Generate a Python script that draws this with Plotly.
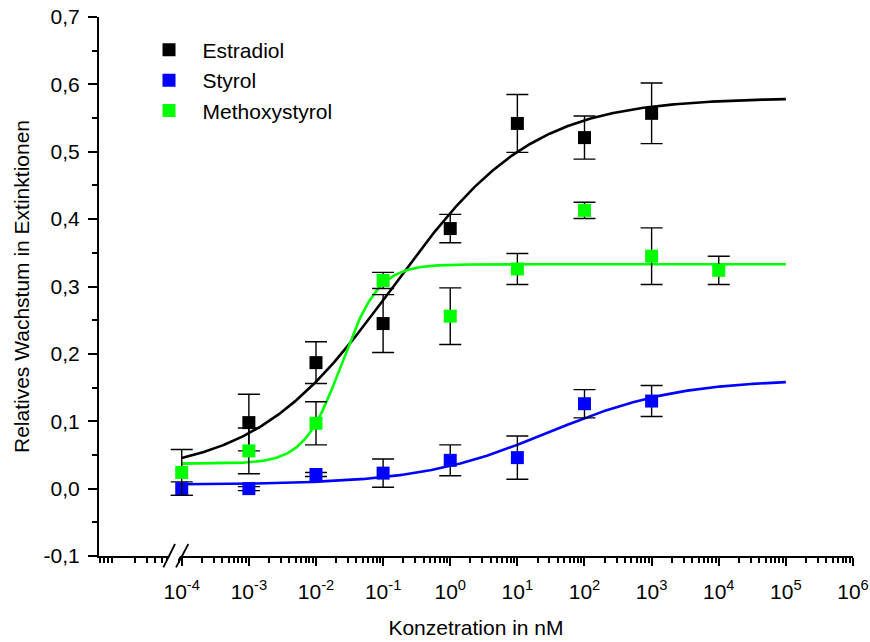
import numpy as np
import plotly.graph_objects as go

# Concentrations in nM
conc = [1e-4, 1e-3, 1e-2, 1e-1, 1e0, 1e1, 1e2, 1e3, 1e4]

# Mean growth (extinction) and standard deviations per substance
estradiol_x = [1e-3, 1e-2, 1e-1, 1e0, 1e1, 1e2, 1e3]
estradiol_y = [0.098, 0.187, 0.245, 0.386, 0.542, 0.521, 0.557]
estradiol_err = [0.042, 0.031, 0.043, 0.021, 0.043, 0.032, 0.045]

styrol_x = [1e-4, 1e-3, 1e-2, 1e-1, 1e0, 1e1, 1e2, 1e3]
styrol_y = [0.000, 0.000, 0.021, 0.023, 0.042, 0.046, 0.126, 0.130]
styrol_err = [0.010, 0.003, 0.003, 0.021, 0.023, 0.032, 0.021, 0.023]

methoxy_x = conc
methoxy_y = [0.024, 0.056, 0.097, 0.309, 0.256, 0.326, 0.413, 0.345, 0.324]
methoxy_err = [0.034, 0.034, 0.032, 0.012, 0.042, 0.023, 0.012, 0.042, 0.021]

# Dose-response fit parameters: bottom, top, log EC50, Hill slope
fit_estradiol = (0.020, 0.580, -0.85, 0.42)
fit_styrol = (0.006, 0.162, 1.48, 0.45)
fit_methoxy = (0.037, 0.333, -1.62, 1.56)

x_tick_exp = [-4, -3, -2, -1, 0, 1, 2, 3, 4, 5, 6]
y_tick_vals = [-0.1, 0.0, 0.1, 0.2, 0.3, 0.4, 0.5, 0.6, 0.7]
y_tick_text = ["-0,1", "0,0", "0,1", "0,2", "0,3", "0,4", "0,5", "0,6", "0,7"]

BLACK = "#000000"
BLUE = "#0000FF"
GREEN = "#00FF00"
FONT = "Liberation Sans, Arial, sans-serif"
FS = 21


def dose_response(logx, params):
    bottom, top, logx0, p = params
    return bottom + (top - bottom) / (1 + 10 ** ((logx0 - logx) * p))


log_grid = np.linspace(-4, 5, 400)
x_grid = 10 ** log_grid

fig = go.Figure()

# fitted curves
for params, col in [(fit_estradiol, BLACK), (fit_methoxy, GREEN), (fit_styrol, BLUE)]:
    fig.add_trace(go.Scatter(
        x=x_grid, y=dose_response(log_grid, params), mode="lines",
        line=dict(color=col, width=2.6), showlegend=False, hoverinfo="skip"))

# measured points with error bars
for name, xs, ys, es, col in [
    ("Estradiol", estradiol_x, estradiol_y, estradiol_err, BLACK),
    ("Styrol", styrol_x, styrol_y, styrol_err, BLUE),
    ("Methoxystyrol", methoxy_x, methoxy_y, methoxy_err, GREEN),
]:
    fig.add_trace(go.Scatter(
        x=xs, y=ys, mode="markers", name=name, legendgroup=name,
        marker=dict(symbol="square", size=13, color=col, line=dict(width=0)),
        error_y=dict(type="data", array=es, visible=True, color=BLACK,
                     thickness=1.4, width=11),
    ))

# plot area geometry (pixels)
W, H = 870, 642
L, R, T, B = 99, 17.3, 17.3, 86
pw, ph = W - L - R, H - T - B
x_lo = -4 - (181.7 - L) / ((W - R - 181.7) / 10)


def px(x):
    return (x - L) / pw


def py(y):
    return (H - B - y) / ph


minor_x = [k * 10.0 ** n for n in range(-6, 6) for k in range(2, 10)]
minor_y = [-0.05, 0.05, 0.15, 0.25, 0.35, 0.45, 0.55, 0.65]

fig.update_layout(
    width=W, height=H,
    margin=dict(l=L, r=R, t=T, b=B, autoexpand=False),
    paper_bgcolor="white", plot_bgcolor="white",
    font=dict(family=FONT, size=FS, color="black"),
    showlegend=True,
    legend=dict(x=px(135.5), y=py(30), xanchor="left", yanchor="top",
                bgcolor="rgba(0,0,0,0)", borderwidth=0, tracegroupgap=0,
                itemwidth=57, font=dict(size=FS, family=FONT)),
    xaxis=dict(
        type="log", range=[x_lo, 6], showgrid=False, zeroline=False,
        showline=True, linecolor="black", linewidth=2, mirror=False,
        tickmode="array", tickvals=[10.0 ** e for e in x_tick_exp],
        ticktext=[f"10<sup>{e}</sup>" for e in x_tick_exp],
        ticks="outside", ticklen=8, tickwidth=2, tickcolor="black",
        tickfont=dict(size=FS, family=FONT), ticklabelstandoff=8,
        minor=dict(tickmode="array", tickvals=minor_x, ticks="outside",
                   ticklen=5, tickwidth=1.5, tickcolor="black"),
        title=dict(text="Konzetration in nM", font=dict(size=FS, family=FONT),
                   standoff=18),
    ),
    yaxis=dict(
        range=[-0.1, 0.7], showgrid=False, zeroline=False,
        showline=True, linecolor="black", linewidth=2, mirror=False,
        tickmode="array", tickvals=y_tick_vals, ticktext=y_tick_text,
        ticks="outside", ticklen=9, tickwidth=2, tickcolor="black",
        tickfont=dict(size=FS, family=FONT), ticklabelstandoff=4,
        minor=dict(tickmode="array", tickvals=minor_y, ticks="outside",
                   ticklen=5, tickwidth=1.5, tickcolor="black"),
        title=dict(text="Relatives Wachstum in Extinktionen",
                   font=dict(size=FS, family=FONT), standoff=8),
    ),
)

# axis break marks on the concentration axis
fig.add_shape(type="path", xref="paper", yref="paper",
              path=(f"M {px(165)} {py(565)} L {px(176)} {py(545)} "
                    f"L {px(186)} {py(545)} L {px(175)} {py(565)} Z"),
              fillcolor="white", line=dict(width=0), layer="above")
for x0, x1 in [(163.3, 175.0), (176.0, 188.3)]:
    fig.add_shape(type="line", xref="paper", yref="paper",
                  x0=px(x0), y0=py(567.3), x1=px(x1), y1=py(544),
                  line=dict(color="black", width=1.8), layer="above")

fig.write_html("out.html")
